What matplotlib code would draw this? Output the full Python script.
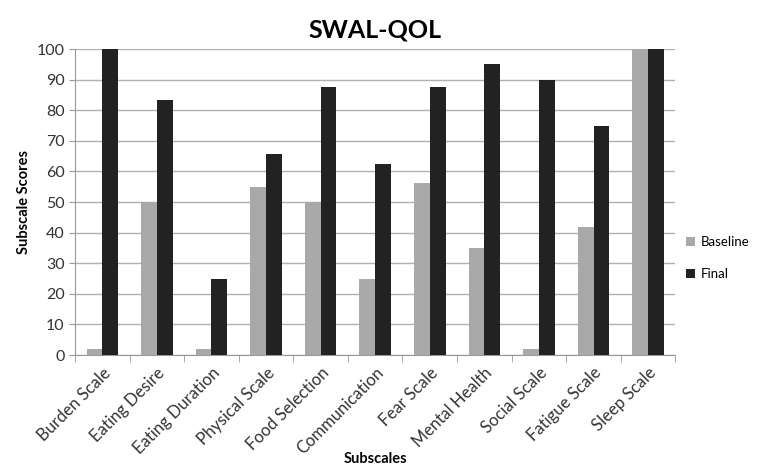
import numpy as np
import matplotlib.pyplot as plt

plt.rcParams['font.family'] = ['Lato', 'DejaVu Sans']

subscales = ['Burden Scale', 'Eating Desire', 'Eating Duration', 'Physical Scale',
             'Food Selection', 'Communication', 'Fear Scale', 'Mental Health',
             'Social Scale', 'Fatigue Scale', 'Sleep Scale']
baseline = [2, 50, 2, 55, 50, 25, 56.25, 35, 2, 41.7, 100]
final = [100, 83.3, 25, 65.8, 87.5, 62.5, 87.5, 95, 90, 75, 100]

fig = plt.figure(figsize=(7.58, 4.75), dpi=100)
ax = fig.add_axes([0.099, 0.2526, 0.792, 0.6442])

x = np.arange(len(subscales))
bw = 0.29
ax.bar(x - bw / 2, baseline, bw, color='#a9a9a9', label='Baseline', zorder=3)
ax.bar(x + bw / 2, final, bw, color='#222222', label='Final', zorder=3)

ax.set_xlim(-0.5, len(subscales) - 0.5)
ax.set_ylim(0, 100)
ax.set_yticks(np.arange(0, 101, 10))
ax.set_xticks(x)
ax.set_xticklabels(subscales, rotation=45, ha='right', rotation_mode='anchor',
                   fontsize=12, color='#333333')
ax.set_xticks(np.arange(-0.5, len(subscales), 1), minor=True)
ax.tick_params(axis='x', which='major', length=0, pad=7)
ax.tick_params(axis='x', which='minor', length=5, color='#999999')
ax.tick_params(axis='y', length=4, color='#999999', labelsize=11.5, labelcolor='#333333')
ax.grid(axis='y', color='#b0b0b0', linewidth=1, zorder=0)
for s in ['top', 'right']:
    ax.spines[s].set_visible(False)
ax.spines['left'].set_color('#999999')
ax.spines['bottom'].set_color('#999999')

ax.set_title('SWAL-QOL', fontsize=18, fontweight='bold', pad=8)
ax.set_ylabel('Subscale Scores', fontsize=10.5, fontweight='bold')
ax.set_xlabel('Subscales', fontsize=10.5, fontweight='bold', labelpad=-4)

fig.legend(loc='center left', bbox_to_anchor=(0.905, 0.457), frameon=False,
           fontsize=9.5, handlelength=0.7, handleheight=0.7, labelspacing=1.5,
           handletextpad=0.4, borderpad=0, borderaxespad=0)

fig.savefig('out.png')
